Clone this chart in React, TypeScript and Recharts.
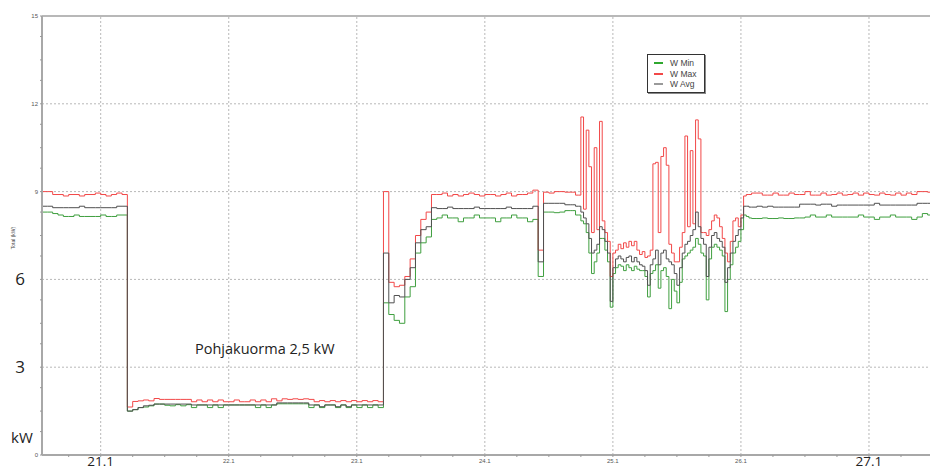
import { LineChart, Line, XAxis, YAxis, ReferenceLine, Legend } from 'recharts';

// hours counted from 21.1 00:00
function span(start: number, end: number, step: number): number[] {
  const out: number[] = [];
  for (let t = start; t <= end + 1e-9; t += step) out.push(Math.round(t * 10) / 10);
  return out;
}
const hours = [...span(-11, 87, 1), ...span(88, 121.5, 0.5), ...span(122, 156, 1)];

const dayHours = [0, 24, 48, 72, 96, 120, 144];
const dayLabels = ['21.1', '22.1', '23.1', '24.1', '25.1', '26.1', '27.1'];
const bigDayLabels = ['21.1', '27.1'];
const yLabels: Record<number, string> = { 0: '0', 3: '3', 6: '6', 9: '9', 12: '12', 15: '15' };
const bigYLabels = [3, 6];
const gridValues = [3, 6, 9, 12];

// W Min (green)
const minA = [
  8.3, 8.3, 8.25, 8.2, 8.15, 8.15, 8.2, 8.15, 8.15, 8.15, 8.15, 8.2, 8.15, 8.15, 8.2, 8.2,
  1.5, 1.55, 1.62, 1.64, 1.68, 1.74, 1.74, 1.7, 1.68, 1.72,
  1.68, 1.72, 1.62, 1.71, 1.71, 1.62, 1.71, 1.62, 1.71, 1.71,
  1.71, 1.71, 1.71, 1.71, 1.62, 1.71, 1.62, 1.71, 1.75, 1.75,
  1.75, 1.75, 1.75, 1.75, 1.62, 1.71, 1.62, 1.71, 1.71, 1.62,
  1.71, 1.62, 1.71, 1.62, 1.71, 1.62, 1.71, 1.62,
  5.2, 4.8, 4.6, 4.5, 5.4, 5.75, 6.9, 7.25, 7.45, 8.05,
  8.1, 8.2, 8.1, 8.1, 7.97, 8.1, 8.1, 8.2, 8.1, 8.1, 8.1, 7.97, 8.1, 8.1, 8.2, 8.1, 8.1, 7.97, 8.05,
  6.1,
  8.3, 8.3, 8.28, 8.3, 8.35,
];
const minB = [
  8.35, 8.35, 8.2, 8.2, 8.0, 7.9, 7.6, 6.9, 6.2, 6.6,
  6.9, 7.4, 7.4, 7.0, 6.6, 5.05, 6.2, 6.4, 6.5, 6.45,
  6.3, 6.5, 6.4, 6.3, 6.45, 6.35, 6.3, 6.3, 6.1, 5.4,
  6.2, 6.3, 6.5, 5.7, 6.3, 6.4, 6.1, 5.0, 6.0, 5.6,
  5.2, 5.9, 6.7, 6.8, 6.9, 7.0, 7.1, 7.4, 7.2, 6.9,
  6.8, 5.3, 6.7, 7.1, 7.2, 7.1, 7.0, 6.8, 4.9, 6.0,
  6.5, 6.9, 7.1, 7.3, 7.7, 8.2, 8.15, 8.1,
];
const minC = [
  8.08, 8.08, 8.1, 8.08, 8.08, 8.1, 8.08, 8.08, 8.1, 8.1,
  8.13, 8.2, 8.13, 8.13, 8.2, 8.13, 8.13, 8.13, 8.13, 8.13,
  8.2, 8.13, 8.13, 8.05, 8.13, 8.13, 8.2, 8.13, 8.13, 8.13,
  8.05, 8.13, 8.25, 8.2, 8.2,
];

// W Max (red)
const maxA = [
  9.0, 9.0, 8.9, 8.9, 8.85, 8.9, 8.9, 8.85, 8.9, 8.9, 8.95, 8.9, 8.85, 8.9, 8.95, 8.9,
  1.64, 1.83, 1.85, 1.88, 1.85, 1.93, 1.9, 1.9, 1.9, 1.9,
  1.9, 1.9, 1.82, 1.88, 1.82, 1.88, 1.82, 1.88, 1.82, 1.82,
  1.88, 1.82, 1.82, 1.88, 1.82, 1.88, 1.82, 1.92, 1.85, 1.92,
  1.9, 1.92, 1.9, 1.92, 1.9, 1.82, 1.86, 1.82, 1.86, 1.82,
  1.86, 1.82, 1.86, 1.82, 1.86, 1.82, 1.86, 1.82,
  9.0, 5.9, 5.75, 5.8, 6.1, 6.7, 7.5, 8.05, 8.3, 8.9,
  8.9, 8.95, 8.85, 8.9, 8.85, 8.9, 8.95, 8.9, 8.85, 8.9, 8.9, 8.85, 8.9, 8.95, 8.85, 8.9, 8.9, 8.95, 9.05,
  7.0,
  8.98, 8.95, 9.0, 9.0, 8.98,
];
const maxB = [
  8.98, 8.98, 8.88, 8.88, 11.55, 8.4, 11.1, 9.85, 7.6, 10.5,
  7.7, 11.4, 8.0, 7.6, 7.3, 6.1, 6.9, 7.0, 7.2, 7.05,
  7.25, 7.1, 7.3, 7.15, 7.3, 7.0, 6.85, 6.95, 6.75, 6.8,
  7.0, 9.95, 10.0, 7.6, 10.2, 10.5, 9.9, 7.2, 6.9, 6.6,
  6.6, 7.1, 7.6, 10.9, 7.8, 10.4, 7.9, 11.45, 10.8, 7.6,
  7.6, 7.5, 7.7, 8.0, 8.2, 8.1, 7.8, 7.4, 6.9, 6.6,
  7.3, 8.0, 8.1, 7.8, 8.2, 8.85, 8.9, 8.9,
];
const maxC = [
  8.95, 8.95, 8.88, 8.88, 8.95, 8.88, 8.88, 8.95, 8.9, 8.9,
  9.0, 8.88, 8.88, 8.95, 8.88, 8.9, 8.95, 8.88, 8.9, 8.95,
  8.88, 8.95, 8.9, 8.88, 8.95, 8.9, 8.88, 8.95, 8.88, 8.95,
  8.9, 9.0, 9.0, 8.98, 8.98,
];

// W Avg (dark grey)
const avgA = [
  8.5, 8.5, 8.45, 8.45, 8.45, 8.45, 8.45, 8.5, 8.45, 8.45, 8.45, 8.45, 8.45, 8.45, 8.5, 8.5,
  1.5, 1.55, 1.62, 1.68, 1.7, 1.74, 1.74, 1.74, 1.74, 1.74,
  1.74, 1.74, 1.71, 1.71, 1.71, 1.71, 1.71, 1.71, 1.71, 1.71,
  1.71, 1.71, 1.71, 1.71, 1.71, 1.71, 1.71, 1.71, 1.78, 1.78,
  1.78, 1.78, 1.78, 1.78, 1.71, 1.71, 1.65, 1.71, 1.71, 1.65,
  1.71, 1.65, 1.71, 1.71, 1.71, 1.71, 1.71, 1.71,
  6.9, 5.2, 5.45, 5.4, 6.0, 6.4, 7.25, 7.7, 7.8, 8.45,
  8.42, 8.42, 8.47, 8.42, 8.42, 8.42, 8.42, 8.47, 8.42, 8.42, 8.42, 8.42, 8.42, 8.47, 8.42, 8.42, 8.42, 8.42, 8.5,
  6.6,
  8.6, 8.6, 8.6, 8.6, 8.55,
];
const avgB = [
  8.55, 8.55, 8.5, 8.5, 8.3, 8.1, 7.9, 7.4, 6.9, 7.0,
  7.2, 7.8, 7.7, 7.3, 6.9, 5.25, 6.4, 6.7, 6.8, 6.7,
  6.6, 6.75, 6.8, 6.6, 6.75, 6.6, 6.5, 6.45, 6.3, 5.8,
  6.5, 6.7, 7.0, 6.5, 6.9, 7.0, 6.7, 6.6, 6.5, 6.2,
  5.8, 6.4, 6.9, 7.2, 7.3, 7.5, 7.7, 8.3, 7.8, 7.4,
  7.2, 6.1, 7.1, 7.5, 7.6, 7.4, 7.3, 7.1, 5.9, 6.4,
  6.9, 7.3, 7.5, 7.7, 8.1, 8.5, 8.5, 8.47,
];
const avgC = [
  8.47, 8.5, 8.47, 8.5, 8.47, 8.47, 8.47, 8.47, 8.47, 8.57,
  8.57, 8.57, 8.54, 8.57, 8.57, 8.5, 8.54, 8.54, 8.54, 8.54,
  8.54, 8.54, 8.54, 8.6, 8.54, 8.54, 8.54, 8.54, 8.54, 8.54,
  8.54, 8.6, 8.6, 8.6, 8.6,
];

const wMin = [...minA, ...minB, ...minC];
const wMax = [...maxA, ...maxB, ...maxC];
const wAvg = [...avgA, ...avgB, ...avgC];

const data = hours.map((t, i) => ({ t, min: wMin[i], max: wMax[i], avg: wAvg[i] }));

const series = [
  { key: 'min', name: 'W Min', color: '#3f9f3f', swatch: '#2fa82f' },
  { key: 'max', name: 'W Max', color: '#f24848', swatch: '#f24848' },
  { key: 'avg', name: 'W Avg', color: '#505050', swatch: '#9a9a9a' },
];

const xTicks = span(-6, 150, 6);
const yTicks = span(0, 15, 0.75);

const XTick = ({ x, y, payload }: any) => {
  const idx = dayHours.indexOf(payload.value);
  if (idx < 0) return <g />;
  const label = dayLabels[idx];
  if (bigDayLabels.includes(label)) {
    return (
      <text x={x} y={y + 7} textAnchor="middle" fontSize={13.5} fill="#222" fontFamily="Open Sans">
        {label}
      </text>
    );
  }
  return (
    <text x={x} y={y + 4} textAnchor="middle" fontSize={6} fill="#555" fontFamily="Liberation Sans">
      {label}
    </text>
  );
};

const YTick = ({ x, y, payload }: any) => {
  const label = yLabels[payload.value];
  if (label === undefined) return <g />;
  if (bigYLabels.includes(payload.value)) {
    return (
      <text x={x - 18} y={y + 6} textAnchor="middle" fontSize={17} fill="#222" fontFamily="Open Sans">
        {label}
      </text>
    );
  }
  return (
    <text x={x} y={y + 2} textAnchor="end" fontSize={6} fill="#555" fontFamily="Liberation Sans">
      {label}
    </text>
  );
};

const LegendBox = () => (
  <div
    style={{
      width: 56,
      border: '1px solid #333',
      boxShadow: '1px 1px 0 #888',
      background: '#fff',
      padding: '3px 0 2px 0',
      fontFamily: 'Liberation Sans',
      fontSize: 8.5,
      color: '#444',
      lineHeight: '10.5px',
    }}
  >
    {series.map((s) => (
      <div key={s.key} style={{ display: 'flex', alignItems: 'center' }}>
        <svg width={22} height={8} style={{ flex: 'none' }}>
          <line x1={6} x2={15} y1={4} y2={4} stroke={s.swatch} strokeWidth={2} />
        </svg>
        <span>{s.name}</span>
      </div>
    ))}
  </div>
);

export default function App() {
  return (
    <div style={{ position: 'absolute', left: 0, top: 0, width: 930, height: 469, overflow: 'hidden', background: '#fff' }}>
      <LineChart width={933} height={469} data={data} margin={{ top: 16, right: 0, bottom: 0, left: 0 }}>
        {gridValues.map((v) => (
          <ReferenceLine key={'h' + v} y={v} stroke="#b8b8b8" strokeDasharray="2 2" />
        ))}
        {dayHours.map((h) => (
          <ReferenceLine key={'v' + h} x={h} stroke="#b8b8b8" strokeDasharray="2 2" />
        ))}
        <ReferenceLine y={15} stroke="#a0a0a0" strokeWidth={1.5} />
        <XAxis
          dataKey="t"
          type="number"
          domain={[-11, 156]}
          ticks={xTicks}
          interval={0}
          height={14}
          tickSize={2}
          tickLine={{ stroke: '#999' }}
          axisLine={{ stroke: '#a8a8a8', strokeWidth: 2 }}
          tick={<XTick />}
        />
        <YAxis
          type="number"
          domain={[0, 15]}
          ticks={yTicks}
          interval={0}
          width={42}
          tickSize={2}
          tickLine={{ stroke: '#999' }}
          axisLine={{ stroke: '#a8a8a8', strokeWidth: 2 }}
          tick={<YTick />}
        />
        <Legend
          layout="vertical"
          align="center"
          verticalAlign="middle"
          content={<LegendBox />}
          wrapperStyle={{ left: 647, top: 54, width: 58, height: 38 }}
        />
        {series.map((s) => (
          <Line
            key={s.key}
            type="stepAfter"
            dataKey={s.key}
            name={s.name}
            stroke={s.color}
            strokeWidth={1}
            dot={false}
            activeDot={false}
            isAnimationActive={false}
          />
        ))}
      </LineChart>
      <div
        style={{
          position: 'absolute',
          left: 13,
          top: 238,
          transform: 'translate(-50%, -50%) rotate(-90deg)',
          fontFamily: 'Liberation Sans',
          fontSize: 5,
          color: '#444',
          whiteSpace: 'nowrap',
        }}
      >
        Total (kW)
      </div>
      <div style={{ position: 'absolute', left: 11, top: 427, fontFamily: 'Open Sans', fontSize: 15, color: '#222' }}>kW</div>
      <div style={{ position: 'absolute', left: 195, top: 339, fontFamily: 'Open Sans', fontSize: 14.5, color: '#222' }}>
        Pohjakuorma 2,5 kW
      </div>
    </div>
  );
}
